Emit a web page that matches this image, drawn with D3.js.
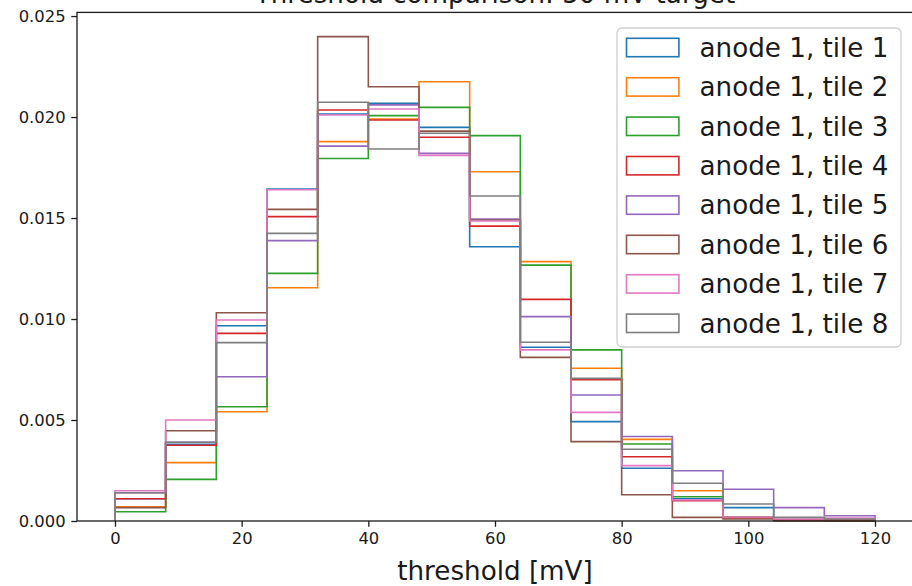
<!DOCTYPE html>
<html>
<head>
<meta charset="utf-8">
<script src="https://cdn.jsdelivr.net/npm/d3@7"></script>
<style>
  html, body { margin: 0; padding: 0; background: #fff; }
  svg { display: block; font-family: "DejaVu Sans", sans-serif; }
</style>
</head>
<body>
<svg id="chart" width="912" height="586"></svg>
<script>
// ---- data ----
const binEdges = [0, 8, 16, 24, 32, 40, 48, 56, 64, 72, 80, 88, 96, 104, 112, 120];
const seriesNames = ["anode 1, tile 1", "anode 1, tile 2", "anode 1, tile 3", "anode 1, tile 4",
                     "anode 1, tile 5", "anode 1, tile 6", "anode 1, tile 7", "anode 1, tile 8"];
const seriesColors = ["#1f77b4", "#ff7f0e", "#2ca02c", "#d62728", "#9467bd", "#8c564b", "#e377c2", "#7f7f7f"];
const tile1 = [0.0011, 0.0038, 0.00967, 0.01644, 0.02015, 0.02068, 0.01949, 0.01358, 0.0086, 0.00492, 0.00261, 0.0011, 0.00066, 0.00005, 0.00003];
const tile2 = [0.0007, 0.00289, 0.00541, 0.01155, 0.01878, 0.0199, 0.02175, 0.01729, 0.01284, 0.00756, 0.00404, 0.0015, 0.0002, 0.00005, 0.0];
const tile3 = [0.00046, 0.00206, 0.00566, 0.01226, 0.01795, 0.02007, 0.02048, 0.01908, 0.01267, 0.00847, 0.00381, 0.0012, 0.0002, 0.00005, 0.0];
const tile4 = [0.0011, 0.00375, 0.00929, 0.01507, 0.02035, 0.01985, 0.019, 0.0146, 0.01097, 0.0070, 0.00318, 0.0010, 0.00015, 0.00005, 0.00005];
const tile5 = [0.0014, 0.0039, 0.00714, 0.01388, 0.01856, 0.0206, 0.0182, 0.01495, 0.01012, 0.00624, 0.00418, 0.00249, 0.00157, 0.00066, 0.00026];
const tile6 = [0.00066, 0.00447, 0.01031, 0.01543, 0.02398, 0.0215, 0.0193, 0.0149, 0.0081, 0.00393, 0.0013, 0.00018, 0.0001, 0.0, 0.0];
const tile7 = [0.0015, 0.005, 0.00995, 0.0164, 0.0201, 0.0204, 0.0181, 0.01485, 0.00847, 0.00538, 0.00274, 0.00104, 0.0002, 0.0001, 0.00015];
const tile8 = [0.0014, 0.0039, 0.00883, 0.01424, 0.02073, 0.01842, 0.0192, 0.01609, 0.00885, 0.00706, 0.00355, 0.00187, 0.00084, 0.00018, 0.0001];
const seriesValues = [tile1, tile2, tile3, tile4, tile5, tile6, tile7, tile8];
const xTicks = [0, 20, 40, 60, 80, 100, 120];
const yTicks = [0.000, 0.005, 0.010, 0.015, 0.020, 0.025];
const titleText = "Threshold comparison: 50 mV target";
const xLabelText = "threshold [mV]";

// ---- layout ----
const svg = d3.select("#chart");
const plot = { left: 77, right: 913, top: 12.4, bottom: 521 };
const x = d3.scaleLinear().domain([-6, 126]).range([plot.left, plot.right]);
const y = d3.scaleLinear().domain([0, 0.02518]).range([plot.bottom, plot.top]);
const textColor = "#1a1a1a";

// histogram step outlines
const line = d3.line().x(d => x(d[0])).y(d => y(d[1]));
seriesValues.forEach((vals, si) => {
  const pts = [[binEdges[0], 0]];
  vals.forEach((v, i) => { pts.push([binEdges[i], v]); pts.push([binEdges[i + 1], v]); });
  pts.push([binEdges[binEdges.length - 1], 0]);
  svg.append("path")
    .attr("d", line(pts))
    .attr("fill", "none")
    .attr("stroke", seriesColors[si])
    .attr("stroke-width", 1.6)
    .attr("stroke-linejoin", "miter");
});

// axes
const xAxis = d3.axisBottom(x).tickValues(xTicks).tickFormat(d3.format("d")).tickSize(5.7).tickPadding(5.7);
const yAxis = d3.axisLeft(y).tickValues(yTicks).tickFormat(d3.format(".3f")).tickSize(5.7).tickPadding(5.7);
const gx = svg.append("g").attr("transform", `translate(0,${plot.bottom})`).call(xAxis);
const gy = svg.append("g").attr("transform", `translate(${plot.left},0)`).call(yAxis);
[gx, gy].forEach(g => {
  g.select(".domain").remove();
  g.selectAll(".tick line").attr("stroke", textColor).attr("stroke-width", 1.3);
  g.selectAll(".tick text").attr("fill", textColor).style("font-size", "16.4px").style("font-family", "DejaVu Sans");
});

// spines
svg.append("rect")
  .attr("x", plot.left).attr("y", plot.top)
  .attr("width", plot.right - plot.left).attr("height", plot.bottom - plot.top)
  .attr("fill", "none").attr("stroke", textColor).attr("stroke-width", 1.3);

// title and x label
svg.append("text").attr("x", (plot.left + plot.right) / 2).attr("y", 3)
  .attr("text-anchor", "middle").attr("fill", textColor).style("font-size", "26.2px")
  .text(titleText);
svg.append("text").attr("x", (plot.left + plot.right) / 2).attr("y", 580)
  .attr("text-anchor", "middle").attr("fill", textColor).style("font-size", "26.2px")
  .text(xLabelText);

// legend
const leg = svg.append("g");
leg.append("rect")
  .attr("x", 617).attr("y", 28).attr("width", 284).attr("height", 319)
  .attr("rx", 5).attr("ry", 5)
  .attr("fill", "#fff").attr("fill-opacity", 0.8)
  .attr("stroke", "#d0d0d0").attr("stroke-width", 1.3);
seriesNames.forEach((name, i) => {
  const cy = 47.5 + i * 39.4;
  leg.append("rect")
    .attr("x", 626.5).attr("y", cy - 9.2).attr("width", 52.4).attr("height", 18.4)
    .attr("fill", "none").attr("stroke", seriesColors[i]).attr("stroke-width", 1.6);
  leg.append("text")
    .attr("x", 699.5).attr("y", cy + 9.3)
    .attr("fill", textColor).style("font-size", "26.2px")
    .text(name);
});
</script>
</body>
</html>
